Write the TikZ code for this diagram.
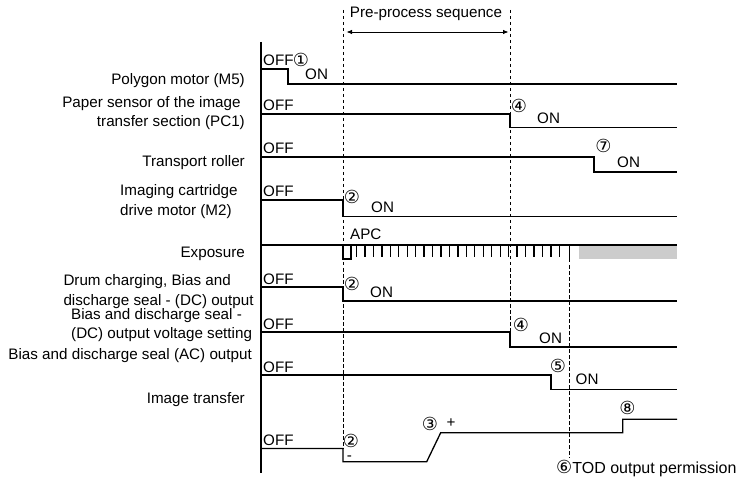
\documentclass[tikz,border=0pt]{standalone}
\usepackage{fontspec}
\setmainfont{Liberation Sans}
\newfontfamily\circfont{DejaVu Sans}
\usetikzlibrary{arrows.meta}

\tikzset{
    signal/.style = {line width=1.3pt},
    marker/.style = {line width=0.7pt, dash pattern=on 3.5pt off 2.5pt},
    pulse/.style = {line width=1.3pt},
    rowlabel/.style = {inner sep=0pt, font=\fontsize{15.2}{19.5}\selectfont},
    state/.style = {inner sep=0pt, font=\fontsize{15.2}{18}\selectfont},
    stepno/.style = {inner sep=0pt, font=\circfont\fontsize{18}{18}\selectfont},
}

\begin{document}
\begin{tikzpicture}[x=1pt, y=-1pt]
    % Define dimensions
    \def\axisX{261}   % left edge of the signals
    \def\endX{677}    % right end of the signals
    \def\tA{343}      % start of pre-process sequence
    \def\tB{510}      % end of pre-process sequence
    \def\tC{569.3}    % TOD output permission

    \useasboundingbox (0,0) rectangle (741,478);

    %Time markers
    \coordinate (preA) at (\tA,10);
    \coordinate (preB) at (\tB,10);
    \coordinate (preAend) at (\tA,448.5);
    \coordinate (preBend) at (\tB,332);
    \coordinate (todA) at (\tC,259);
    \coordinate (todB) at (\tC,458);
    \draw[marker] (preA) -- (preAend);
    \draw[marker] (preB) -- (preBend);
    \draw[marker] (todA) -- (todB);

    \node[state, anchor=base] (seq) at (426,17.5) {Pre-process sequence};
    \coordinate (seqL) at (346.5,32);
    \coordinate (seqR) at (508.5,32);
    \draw[line width=0.8pt, {Latex[length=5.5pt,width=4.5pt]}-{Latex[length=5.5pt,width=4.5pt]}] (seqL) -- (seqR);

    %Axis
    \draw[signal] (\axisX,42) -- (\axisX,473);

    %Signals
    \draw[signal] (\axisX,69) -| (288,84) -- (\endX,84);           % polygon motor
    \draw[signal] (\axisX,114) -| (\tB,127.5) -- (\endX,127.5);    % paper sensor
    \draw[signal] (\axisX,157) -| (594,172) -- (\endX,172);        % transport roller
    \draw[signal] (\axisX,200) -| (\tA,216.5) -- (\endX,216.5);    % cartridge motor
    \fill[black!20] (579.3,245) rectangle (\endX,259);              % exposure
    \draw[signal] (\axisX,245) -- (\endX,245);
    \draw[pulse] (\tA,245) -- (\tA,259) -- (351,259) -- (351,245);
    \foreach \k in {0,...,24}
        \draw[pulse] (356.5+8.45*\k,245) -- ++(0,12);
    \draw[pulse] (\tC,245) -- (\tC,259);
    \draw[signal] (\axisX,287) -| (\tA,301) -- (\endX,301);        % drum charging
    \draw[signal] (\axisX,332) -| (\tB,347) -- (\endX,347);        % DC voltage setting
    \draw[signal] (\axisX,375) -| (551,389.5) -- (\endX,389.5);    % AC output
    \draw[signal] (\axisX,448.5) -| (\tA,461.7) -- (426.7,461.7)
        -- (440.7,432.7) -| (622.7,419.3) -- (\endX,419.3);       % image transfer

    %Row labels (two-line labels sit on the baseline of their last line)
    \node[rowlabel, anchor=base east] (polygon) at (245,85) {Polygon motor (M5)};
    \node[rowlabel, anchor=base east, align=right] (paper) at (245,127)
        {Paper sensor of the image\kern4.2pt\\transfer section (PC1)};
    \node[rowlabel, anchor=base east] (roller) at (245,167) {Transport roller};
    \node[rowlabel, anchor=base west, align=left] (cartridge) at (120,215.5)
        {Imaging cartridge\\drive motor (M2)};
    \node[rowlabel, anchor=base east] (exposure) at (245,257.5) {Exposure};
    \node[rowlabel, anchor=base west, align=left] (drum) at (63.3,305)
        {Drum charging, Bias and\\discharge seal - (DC) output};
    \node[rowlabel, anchor=base west, align=left] (dcset) at (71,338.5)
        {Bias and discharge seal -\\(DC) output voltage setting};
    \node[rowlabel, anchor=base east] (acout) at (252,359.5) {Bias and discharge seal (AC) output};
    \node[rowlabel, anchor=base east] (transfer) at (245,403.5) {Image transfer};

    %Labels
    \foreach \n/\y in {1/66, 2/111, 3/154, 4/197, 5/284.5, 6/329.3, 7/372, 8/445.5}
        \node[state, anchor=base west] (off\n) at (263,\y) {OFF};
    \node[state, anchor=base west] (on1) at (305,80) {ON};
    \node[state, anchor=base west] (on2) at (537,124) {ON};
    \node[state, anchor=base west] (on3) at (617,168) {ON};
    \node[state, anchor=base west] (on4) at (371,213) {ON};
    \node[state, anchor=base west] (on6) at (370,297.5) {ON};
    \node[state, anchor=base west] (on7) at (539,343) {ON};
    \node[state, anchor=base west] (on8) at (575.5,384) {ON};
    \node[state, anchor=base west] (apc) at (350,240) {APC};
    \node[state] (minus) at (349.5,458.5) {-};
    \node[state] (plus) at (451,423) {+};

    \node[stepno] (n1) at (301,60) {①};
    \node[stepno] (n2a) at (352,197) {②};
    \node[stepno] (n2b) at (352,284) {②};
    \node[stepno] (n2c) at (351,441) {②};
    \node[stepno] (n3) at (430,424) {③};
    \node[stepno] (n4a) at (519,106) {④};
    \node[stepno] (n4b) at (521,325) {④};
    \node[stepno] (n5) at (558,366) {⑤};
    \node[stepno] (n7) at (603.5,146) {⑦};
    \node[stepno] (n8) at (627.5,408) {⑧};
    \node[state, anchor=base west, font=\fontsize{16}{18}\selectfont] (tod) at (556,473.3)
        {{\circfont\fontsize{18}{18}\selectfont ⑥}TOD output permission};
\end{tikzpicture}
\end{document}
